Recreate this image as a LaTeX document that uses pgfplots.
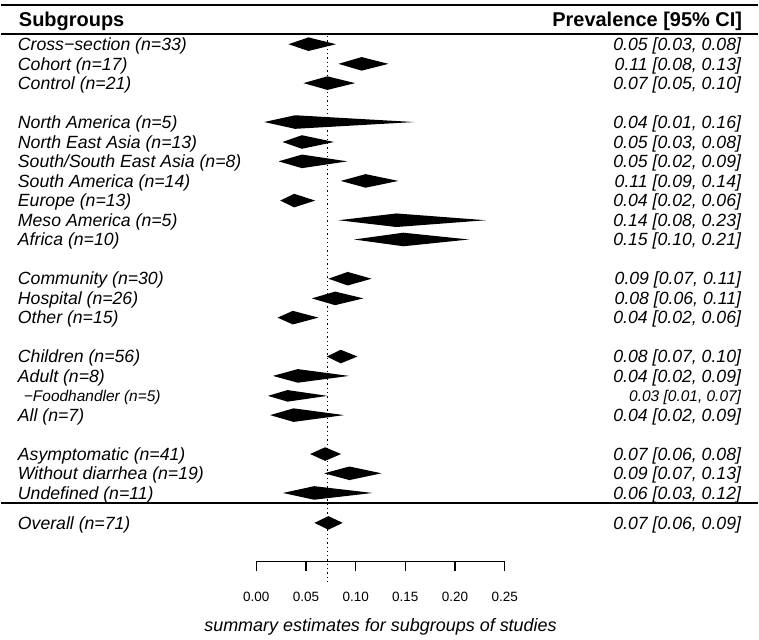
\documentclass[border=0pt]{standalone}
\usepackage{fontspec}
\setmainfont{Liberation Sans}
\usepackage{pgfplots}
\pgfplotsset{compat=1.18}

\newcommand{\bodyfont}{\fontsize{17.7bp}{20bp}\selectfont\itshape}
\newcommand{\smallbody}{\fontsize{15.5bp}{18bp}\selectfont\itshape}
\newcommand{\headfont}{\fontsize{20bp}{24bp}\selectfont\bfseries}
% one filled diamond: lo, est, hi, y, y top, y bottom
\newcommand{\dia}[6]{\addplot[fill=black,draw=none] coordinates {(#1,#4) (#2,#5) (#3,#4) (#2,#6)} -- cycle;}
% one row of text: y, label, estimate
\newcommand{\row}[3]{%
  \node[anchor=base west,yshift=-6.3bp,inner sep=0pt,font=\bodyfont] at (axis cs:-0.23996,#1) {#2};
  \node[anchor=base east,yshift=-6.3bp,inner sep=0pt,font=\bodyfont] at (axis cs:0.48795,#1) {#3};}

\begin{document}
\begin{tikzpicture}
\begin{axis}[
    at={(0,0)}, anchor=south west,
    scale only axis, width=759bp, height=641bp,
    xmin=-0.25703, xmax=0.50502,
    ymin=0, ymax=641, y dir=reverse,
    hide axis, clip=false,
]
% rules
\addplot[black,line width=1.6bp] coordinates {(-0.25703,5) (0.50502,5)};
\addplot[black,line width=1.6bp] coordinates {(-0.25703,34) (0.50502,34)};
\addplot[black,line width=1.4bp] coordinates {(-0.25703,504) (0.50502,504)};
% reference line at the overall estimate
\addplot[black,line width=1.3bp,dash pattern=on 1.3bp off 3bp] coordinates {(0.0716,36) (0.0716,586)};

% diamonds
\dia{0.0325}{0.0525}{0.0803}{44.3}{37.5}{51.1}
\dia{0.0827}{0.1060}{0.1330}{64.0}{57.2}{70.8}
\dia{0.0475}{0.0716}{0.0994}{83.3}{76.5}{90.1}
\dia{0.0080}{0.0390}{0.1590}{122.3}{115.5}{129.1}
\dia{0.0264}{0.0459}{0.0783}{142.3}{135.5}{149.1}
\dia{0.0224}{0.0460}{0.0917}{161.7}{154.9}{168.5}
\dia{0.0850}{0.1100}{0.1430}{181.3}{174.5}{188.1}
\dia{0.0241}{0.0382}{0.0592}{201.0}{194.2}{207.8}
\dia{0.0827}{0.1410}{0.2310}{220.7}{213.9}{227.5}
\dia{0.0984}{0.1480}{0.2140}{240.0}{233.2}{246.8}
\dia{0.0726}{0.0920}{0.1160}{279.3}{272.5}{286.1}
\dia{0.0559}{0.0793}{0.1078}{299.0}{292.2}{305.8}
\dia{0.0214}{0.0368}{0.0626}{318.3}{311.5}{325.1}
\dia{0.0710}{0.0850}{0.1018}{357.3}{350.5}{364.1}
\dia{0.0167}{0.0418}{0.0934}{376.7}{369.9}{383.5}
\dia{0.0117}{0.0315}{0.0716}{396.7}{390.9}{402.5}
\dia{0.0140}{0.0375}{0.0884}{416.0}{409.2}{422.8}
\dia{0.0542}{0.0693}{0.0853}{455.0}{448.2}{461.8}
\dia{0.0683}{0.0937}{0.1260}{474.3}{467.5}{481.1}
\dia{0.0268}{0.0582}{0.1170}{494.0}{487.2}{500.8}
\dia{0.0585}{0.0726}{0.0870}{524.0}{517.2}{530.8}

% headers
\node[anchor=base west,yshift=-7.2bp,inner sep=0pt,font=\headfont] at (axis cs:-0.23896,19) {Subgroups};
\node[anchor=base east,yshift=-7.2bp,inner sep=0pt,font=\headfont] at (axis cs:0.48896,19) {Prevalence [95\% CI]};

% rows
\row{44.3}{Cross−section (n=33)}{0.05 [0.03, 0.08]}
\row{64.0}{Cohort (n=17)}{0.11 [0.08, 0.13]}
\row{83.3}{Control (n=21)}{0.07 [0.05, 0.10]}
\row{122.3}{North America (n=5)}{0.04 [0.01, 0.16]}
\row{142.3}{North East Asia (n=13)}{0.05 [0.03, 0.08]}
\row{161.7}{South/South East Asia (n=8)}{0.05 [0.02, 0.09]}
\row{181.3}{South America (n=14)}{0.11 [0.09, 0.14]}
\row{201.0}{Europe (n=13)}{0.04 [0.02, 0.06]}
\row{220.7}{Meso America (n=5)}{0.14 [0.08, 0.23]}
\row{240.0}{Africa (n=10)}{0.15 [0.10, 0.21]}
\row{279.3}{Community (n=30)}{0.09 [0.07, 0.11]}
\row{299.0}{Hospital (n=26)}{0.08 [0.06, 0.11]}
\row{318.3}{Other (n=15)}{0.04 [0.02, 0.06]}
\row{357.3}{Children (n=56)}{0.08 [0.07, 0.10]}
\row{376.7}{Adult (n=8)}{0.04 [0.02, 0.09]}
\node[anchor=base west,yshift=-5.5bp,inner sep=0pt,font=\smallbody] at (axis cs:-0.23394,396.7) {−Foodhandler (n=5)};
\node[anchor=base east,yshift=-5.5bp,inner sep=0pt,font=\smallbody] at (axis cs:0.48795,396.7) {0.03 [0.01, 0.07]};
\row{416.0}{All (n=7)}{0.04 [0.02, 0.09]}
\row{455.0}{Asymptomatic (n=41)}{0.07 [0.06, 0.08]}
\row{474.3}{Without diarrhea (n=19)}{0.09 [0.07, 0.13]}
\row{494.0}{Undefined (n=11)}{0.06 [0.03, 0.12]}
\row{524.0}{Overall (n=71)}{0.07 [0.06, 0.09]}

% axis title
\node[anchor=base,inner sep=0pt,font=\fontsize{18bp}{22bp}\selectfont\itshape] at (axis cs:0.125,633) {summary estimates for subgroups of studies};
\end{axis}

\begin{axis}[
    at={(256bp,78bp)}, anchor=south west,
    scale only axis, width=249bp, height=20bp,
    xmin=0, xmax=0.25, ymin=0, ymax=1,
    axis x line=bottom, axis y line=none,
    x axis line style={-,line width=1.3bp},
    xtick={0,0.05,0.10,0.15,0.20,0.25},
    xticklabels={0.00,0.05,0.10,0.15,0.20,0.25},
    tick align=outside, major tick length=9.5bp,
    every tick/.style={black,line width=1.3bp},
    xticklabel style={font=\fontsize{13.5bp}{16bp}\selectfont,yshift=-17bp},
]
\end{axis}
\path (0,0) rectangle (759bp,641bp);
\end{tikzpicture}
\end{document}
